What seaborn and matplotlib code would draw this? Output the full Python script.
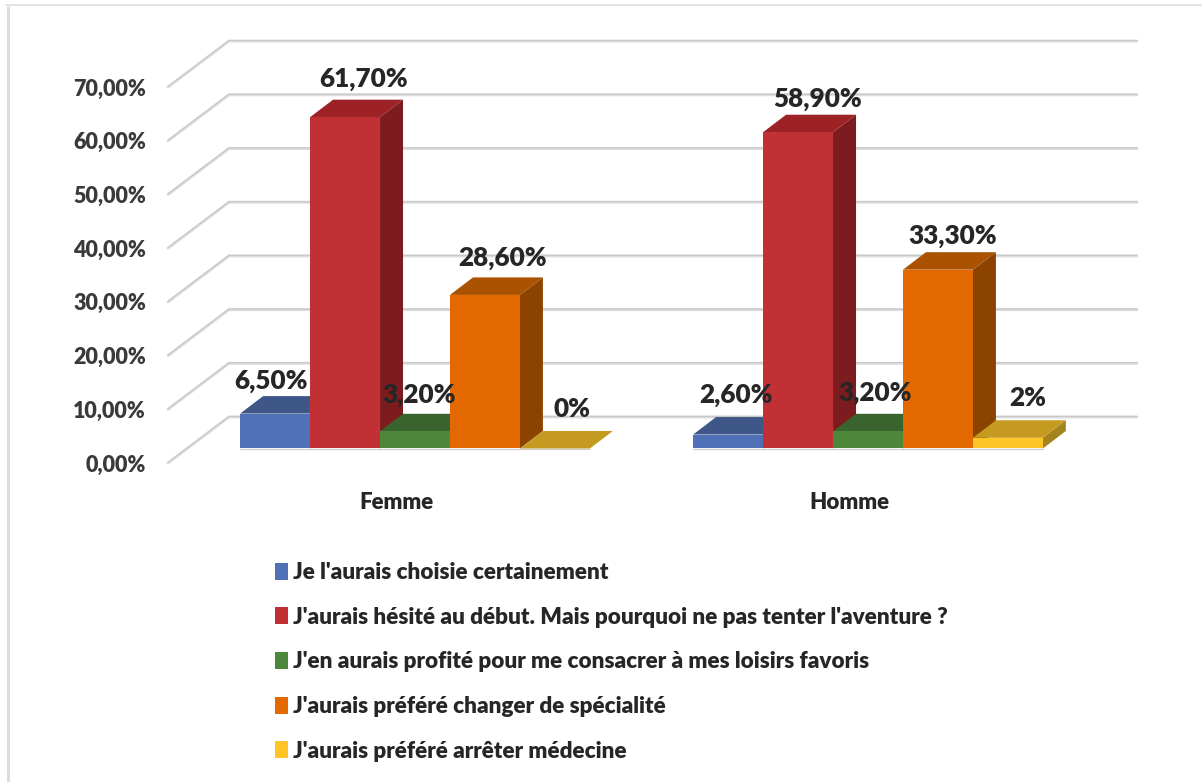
import numpy as np
import pandas as pd
import matplotlib
matplotlib.use('Agg')
from matplotlib import pyplot as plt
from matplotlib.patches import Polygon
import seaborn as sns

groups = ['Femme', 'Homme']
answers = ["Je l'aurais choisie certainement",
           "J'aurais hésité au début. Mais pourquoi ne pas tenter l'aventure ?",
           "J'en aurais profité pour me consacrer à mes loisirs favoris",
           "J'aurais préféré changer de spécialité",
           "J'aurais préféré arrêter médecine"]
femme = [6.5, 61.7, 3.2, 28.6, 0]
homme = [2.6, 58.9, 3.2, 33.3, 2]
femme_labels = ['6,50%', '61,70%', '3,20%', '28,60%', '0%']
homme_labels = ['2,60%', '58,90%', '3,20%', '33,30%', '2%']
ticks = [0, 10, 20, 30, 40, 50, 60, 70]
tick_labels = ['0,00%', '10,00%', '20,00%', '30,00%', '40,00%', '50,00%', '60,00%', '70,00%']

front_colors = ['#5070b8', '#c03035', '#4c873c', '#e46800', '#ffc526']
top_colors = ['#3f5788', '#9c2226', '#3a642e', '#ab5200', '#c49a20']
side_colors = ['#34486f', '#7d1c1f', '#2f5226', '#8c4300', '#a5831c']

# label nudges in pixels from the top centre of each bar
label_dx = [-4, 19, 4, 18, 17, 8, 20, 7, 15, 20]
label_dy = [33, 38, 36, 37, 39, 40, 33, 38, 34, 40]

W, H = 1203, 782
PX = 5.37          # pixels per percent
X0, GAP = 415, 453 # first group centre, distance between groups
Y0 = 448.5         # bar base

df = pd.DataFrame({
    'group': np.repeat(groups, len(answers)),
    'answer': answers * 2,
    'value': femme + homme,
})

sns.set_theme(style='white')
plt.rcParams['font.family'] = ['Lato', 'DejaVu Sans']

fig = plt.figure(figsize=(W / 100, H / 100), dpi=100)
ax = fig.add_axes([0, 0, 1, 1])
ax.set_xlim(-X0 / GAP, (W - X0) / GAP)
ax.set_ylim((Y0 - H) / PX, Y0 / PX)
ax.axis('off')

dx = lambda p: p / GAP
dy = lambda p: p / PX
left = ax.get_xlim()[0]
right = ax.get_xlim()[1]
top_y = ax.get_ylim()[1]

# frame of the pasted picture
ax.plot([left + dx(7.5)] * 2, [ax.get_ylim()[0], top_y - dy(6)],
        color='#dddddd', lw=2.2, zorder=0, solid_capstyle='butt')
ax.plot([left + dx(6), right - dx(2)], [top_y - dy(5.5)] * 2,
        color='#dddddd', lw=1.2, zorder=0)

# wall grid
x_front = left + dx(168)
x_back = left + dx(229)
x_end = left + dx(1137)
for t, lab in zip(ticks, tick_labels):
    xs = [x_front, x_back, x_end]
    ys = [t - dy(14.5), t + dy(31.5), t + dy(31.5)]
    ax.plot(xs, ys, color='#dcdcdc', lw=2.1, zorder=1, solid_capstyle='round')
    ax.plot(xs, [y + dy(0.6) for y in ys], color='#c8c8c8', lw=0.8, zorder=1)
    ax.text(left + dx(146), t - dy(16.5), lab, ha='right', va='center',
            fontsize=15.5, color='#3a3a3a', fontweight='heavy')

sns.barplot(data=df, x='group', y='value', hue='answer', hue_order=answers,
            palette=front_colors, width=0.772, gap=0, saturation=1, ax=ax,
            order=groups, linewidth=0, errorbar=None)
ax.set_xlim(-X0 / GAP, (W - X0) / GAP)
ax.set_ylim((Y0 - H) / PX, Y0 / PX)

ddx, ddy = dx(23), dy(17.5)
labels = femme_labels + homme_labels
for i, cont in enumerate(ax.containers):
    for j, bar in enumerate(cont.patches):
        x, w, h = bar.get_x(), bar.get_width(), bar.get_height()
        side = Polygon([(x + w, 0), (x + w + ddx, ddy), (x + w + ddx, h + ddy), (x + w, h)],
                       fc=side_colors[i], ec='none')
        top = Polygon([(x, h), (x + ddx, h + ddy), (x + w + ddx, h + ddy), (x + w, h)],
                      fc=top_colors[i], ec='none')
        # left to right so that each bar hides the side of the one before
        z_bar = 3 + j * 10 + i
        side.set_zorder(z_bar)
        top.set_zorder(z_bar)
        bar.set_zorder(z_bar + 0.5)
        ax.add_patch(side)
        ax.add_patch(top)
        k = j * len(answers) + i
        ax.text(x + w / 2 + dx(label_dx[k]), h + dy(label_dy[k]), labels[k], ha='center',
                va='center', fontsize=18.8, color='#262626', fontweight='heavy', zorder=50)

# pale line under the bars
for j in range(len(groups)):
    ax.plot([j - 0.386, j + 0.386], [-dy(0.5)] * 2, color='#cfcfcf', lw=0.9, zorder=2)
    ax.text(j - dx(19), -dy(54), groups[j], ha='center', va='center', fontsize=16,
            color='#262626', fontweight='heavy')

handles, labs = ax.get_legend_handles_labels()
leg = ax.legend(handles, labs, loc='upper left', bbox_to_anchor=(274.5 / W, 1 - 562 / H),
                bbox_transform=fig.transFigure, frameon=False, fontsize=16.2,
                handlelength=0.62, handleheight=0.78, handletextpad=0.22, labelspacing=1.05,
                borderpad=0, borderaxespad=0)
for t in leg.get_texts():
    t.set_color('#262626')
    t.set_fontweight('heavy')

fig.savefig('out.png', dpi=100, facecolor='white')
